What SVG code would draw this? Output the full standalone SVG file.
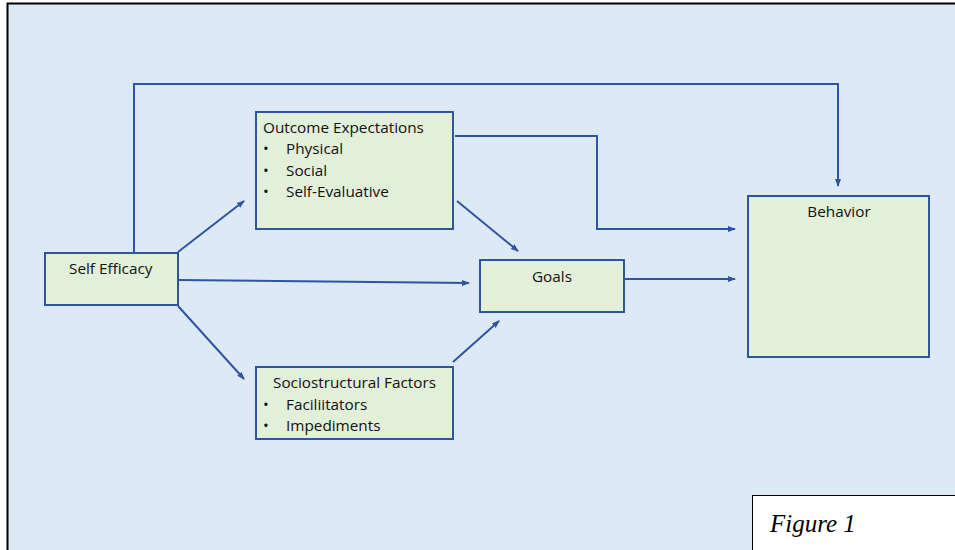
<svg xmlns="http://www.w3.org/2000/svg" width="955" height="550" viewBox="0 0 955 550">
<style>
.node{fill:#e2efd9;stroke:#2f55a0;stroke-width:2}
.t{font-family:"Open Sans","Liberation Sans",sans-serif;font-size:15.3px;fill:#111}
.c{fill:none;stroke:#2f55a0;stroke-width:2}
</style>
<defs>
<marker id="ah" markerWidth="8" markerHeight="8" refX="7" refY="4" orient="auto" markerUnits="userSpaceOnUse">
<path d="M0,1 L8,4 L0,7 Z" fill="#2f55a0"/>
</marker>
</defs>
<rect x="0" y="0" width="955" height="550" fill="#fff"/>
<rect x="7.5" y="3.5" width="950" height="550" fill="#dde9f5" stroke="#000" stroke-width="2"/>
<g id="connectors">
<polyline class="c" points="134,253 134,84 838,84 838,186" marker-end="url(#ah)"/>
<polyline class="c" points="455,136 597,136 597,229 735,229" marker-end="url(#ah)"/>
<line class="c" x1="457" y1="201" x2="518" y2="251" marker-end="url(#ah)"/>
<line class="c" x1="178" y1="252" x2="244" y2="201" marker-end="url(#ah)"/>
<line class="c" x1="178" y1="280" x2="469" y2="283" marker-end="url(#ah)"/>
<line class="c" x1="178" y1="306" x2="244" y2="379" marker-end="url(#ah)"/>
<line class="c" x1="453" y1="362" x2="499" y2="321" marker-end="url(#ah)"/>
<line class="c" x1="624" y1="279" x2="735" y2="279" marker-end="url(#ah)"/>
</g>
<g id="self-efficacy">
<rect class="node" x="45" y="253" width="133" height="52"/>
<text class="t" x="69" y="274">Self Efficacy</text>
</g>
<g id="outcome">
<rect class="node" x="256" y="112" width="197" height="117"/>
<text class="t" x="263" y="133">Outcome Expectations</text>
<text class="t" x="263" y="154">•</text><text class="t" x="286" y="154">Physical</text>
<text class="t" x="263" y="176">•</text><text class="t" x="286" y="176">Social</text>
<text class="t" x="263" y="197">•</text><text class="t" x="286" y="197">Self-Evaluative</text>
</g>
<g id="socio">
<rect class="node" x="256" y="367" width="197" height="72"/>
<text class="t" x="273" y="388">Sociostructural Factors</text>
<text class="t" x="263" y="410">•</text><text class="t" x="286" y="410">Faciliitators</text>
<text class="t" x="263" y="431">•</text><text class="t" x="286" y="431">Impediments</text>
</g>
<g id="goals">
<rect class="node" x="480" y="260" width="144" height="52"/>
<text class="t" x="552" y="282" text-anchor="middle">Goals</text>
</g>
<g id="behavior">
<rect class="node" x="748" y="196" width="181" height="161"/>
<text class="t" x="839" y="217" text-anchor="middle">Behavior</text>
</g>
<g id="figure-label">
<rect x="752.5" y="495.5" width="210" height="60" fill="#fff" stroke="#000" stroke-width="1"/>
<text x="770" y="532" font-family="'Liberation Serif',serif" font-style="italic" font-size="25" fill="#000">Figure 1</text>
</g>
</svg>
